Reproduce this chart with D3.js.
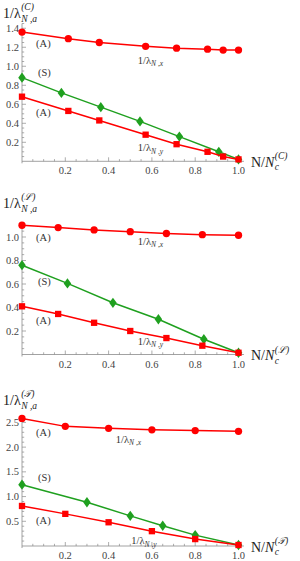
<!DOCTYPE html>
<html><head><meta charset="utf-8">
<script src="https://cdn.jsdelivr.net/npm/d3@7"></script>
<style>body{margin:0;background:#fff}svg{display:block}</style>
</head><body>
<script>
// ---------- data ----------
// Panel C
const cX_pos = [0, 0.214, 0.357, 0.571, 0.714, 0.857, 0.929, 1.0];
const cX_val = [1.36, 1.29, 1.25, 1.21, 1.19, 1.18, 1.17, 1.17];
const cY_val = [0.68, 0.53, 0.43, 0.28, 0.18, 0.10, 0.05, 0.02];
const cS_pos = [0, 0.182, 0.364, 0.545, 0.727, 0.909, 1.0];
const cS_val = [0.88, 0.72, 0.57, 0.42, 0.26, 0.10, 0.02];
// Panel L
const lX_pos = [0, 0.167, 0.333, 0.5, 0.667, 0.833, 1.0];
const lX_val = [1.10, 1.08, 1.06, 1.045, 1.03, 1.02, 1.015];
const lY_val = [0.41, 0.345, 0.27, 0.20, 0.14, 0.075, 0.015];
const lS_pos = [0, 0.21, 0.42, 0.63, 0.84, 1.0];
const lS_val = [0.76, 0.605, 0.44, 0.30, 0.13, 0.015];
// Panel T
const tX_pos = [0, 0.2, 0.4, 0.6, 0.8, 1.0];
const tX_val = [2.58, 2.42, 2.38, 2.35, 2.335, 2.32];
const tY_val = [0.81, 0.65, 0.48, 0.30, 0.14, 0.02];
const tS_pos = [0, 0.3, 0.5, 0.65, 0.8, 1.0];
const tS_val = [1.24, 0.885, 0.61, 0.41, 0.22, 0.02];

const xTicks = [0.2, 0.4, 0.6, 0.8, 1.0];
const cYTicks = [0.2, 0.4, 0.6, 0.8, 1.0, 1.2, 1.4];
const lYTicks = [0.2, 0.4, 0.6, 0.8, 1.0];
const tYTicks = [0.5, 1.0, 1.5, 2.0, 2.5];
const panelSups = ["(C)", "(ℒ)", "(𝒯)"];

// ---------- layout ----------
const RED = "#ff0000", GREEN = "#1fa01f", AXIS = "#8a8a8a", LBL = "#444";
const FONT = "'Liberation Serif','DejaVu Serif',serif";
const panels = [
  {sup: panelSups[0], y0: 161.3, yTop: 23.5, yMax: 1.45, yTicks: cYTicks, minorStep: 0.05,
   xs: [{pos: cX_pos, val: cX_val, shape: "circle", color: RED},
        {pos: cS_pos, val: cS_val, shape: "diamond", color: GREEN},
        {pos: cX_pos, val: cY_val, shape: "square", color: RED}],
   ann: [{t:"(A)", x:0.065, y:1.203}, {t:"(S)", x:0.074, y:0.898}, {t:"(A)", x:0.065, y:0.477},
         {t:"lx", x:0.535, y:1.024}, {t:"ly", x:0.535, y:0.108}],
   titleY: 18},
  {sup: panelSups[1], y0: 354.5, yTop: 225.25, yMax: 1.1, yTicks: lYTicks, minorStep: 0.05,
   xs: [{pos: lX_pos, val: lX_val, shape: "circle", color: RED},
        {pos: lS_pos, val: lS_val, shape: "diamond", color: GREEN},
        {pos: lX_pos, val: lY_val, shape: "square", color: RED}],
   ann: [{t:"(A)", x:0.065, y:0.966}, {t:"(S)", x:0.074, y:0.591}, {t:"(A)", x:0.065, y:0.26},
         {t:"lx", x:0.535, y:0.932}, {t:"ly", x:0.535, y:0.081}],
   titleY: 208},
  {sup: panelSups[2], y0: 546, yTop: 415, yMax: 2.65, yTicks: tYTicks, minorStep: 0.1,
   xs: [{pos: tX_pos, val: tX_val, shape: "circle", color: RED},
        {pos: tS_pos, val: tS_val, shape: "diamond", color: GREEN},
        {pos: tX_pos, val: tY_val, shape: "square", color: RED}],
   ann: [{t:"(A)", x:0.065, y:2.227}, {t:"(S)", x:0.074, y:1.316}, {t:"(A)", x:0.065, y:0.445},
         {t:"lx", x:0.433, y:2.085}, {t:"ly", x:0.505, y:0.04}],
   titleY: 405}
];

const svg = d3.select("body").append("svg").attr("width", 300).attr("height", 561);
const x = d3.scaleLinear().domain([0, 1]).range([22, 238.5]);

panels.forEach(p => {
  const y = d3.scaleLinear().domain([0, p.yMax]).range([p.y0, p.yTop]);
  const g = svg.append("g");
  // axes lines
  g.append("line").attr("x1", x(0)).attr("x2", x(1.025)).attr("y1", y(0)).attr("y2", y(0))
    .attr("stroke", AXIS).attr("stroke-width", 0.8);
  g.append("line").attr("x1", x(0)).attr("x2", x(0)).attr("y1", y(0) + 2).attr("y2", p.yTop)
    .attr("stroke", AXIS).attr("stroke-width", 0.8);
  // x ticks
  const xMinor = d3.range(0.05, 1.0001, 0.05);
  xMinor.forEach(v => {
    const major = xTicks.some(t => Math.abs(t - v) < 1e-6);
    g.append("line").attr("x1", x(v)).attr("x2", x(v)).attr("y1", y(0)).attr("y2", y(0) - (major ? 4 : 2.2))
      .attr("stroke", AXIS).attr("stroke-width", 0.7);
  });
  xTicks.forEach(v => {
    g.append("text").attr("x", x(v)).attr("y", y(0) + 13).attr("text-anchor", "middle")
      .attr("font-family", FONT).attr("font-size", 10.5).attr("fill", LBL).text(v.toFixed(1));
  });
  // y ticks
  const yMinor = d3.range(p.minorStep, p.yMax + 1e-6, p.minorStep);
  yMinor.forEach(v => {
    const major = p.yTicks.some(t => Math.abs(t - v) < 1e-6);
    g.append("line").attr("x1", x(0)).attr("x2", x(0) + (major ? 4 : 2.2)).attr("y1", y(v)).attr("y2", y(v))
      .attr("stroke", AXIS).attr("stroke-width", 0.7);
  });
  p.yTicks.forEach(v => {
    g.append("text").attr("x", x(0) - 3).attr("y", y(v) + 3.5).attr("text-anchor", "end")
      .attr("font-family", FONT).attr("font-size", 10.5).attr("fill", LBL).text(v.toFixed(1));
  });
  // series
  p.xs.forEach(s => {
    const pts = s.pos.map((v, i) => [x(v), y(s.val[i])]);
    g.append("path").attr("d", d3.line()(pts)).attr("fill", "none").attr("stroke", s.color).attr("stroke-width", 1.5);
    const sym = s.shape === "circle" ? d3.symbolCircle : s.shape === "square" ? d3.symbolSquare : d3.symbolDiamond;
    const size = s.shape === "circle" ? 42 : s.shape === "square" ? 40 : 34;
    pts.forEach(pt => {
      g.append("path").attr("d", d3.symbol().type(sym).size(size)())
        .attr("transform", `translate(${pt[0]},${pt[1]})` + (s.shape === "diamond" ? " scale(1.2,0.95)" : ""))
        .attr("fill", s.color);
    });
  });
  // annotations
  p.ann.forEach(a => {
    const t = g.append("text").attr("x", x(a.x)).attr("y", y(a.y))
      .attr("font-family", FONT).attr("font-size", 10.5).attr("fill", "#333");
    if (a.t === "lx" || a.t === "ly") {
      t.append("tspan").text("1/λ");
      t.append("tspan").attr("font-size", 7.5).attr("font-style", "italic").attr("dy", 2.5).text("N");
      t.append("tspan").attr("font-size", 7.5).text(" ,");
      t.append("tspan").attr("font-size", 7.5).attr("font-style", "italic").text(a.t === "lx" ? "x" : "y");
    } else {
      t.text(a.t);
    }
  });
  // y title
  const yt = g.append("text").attr("x", 3).attr("y", p.titleY)
    .attr("font-family", FONT).attr("font-size", 14).attr("fill", "#222").text("1/λ");
  const w = yt.node().getComputedTextLength();
  g.append("text").attr("x", 3 + w + 0.5).attr("y", p.titleY - 8).attr("font-family", FONT)
    .attr("font-size", 9.5).attr("font-style", "italic").attr("fill", "#222").text(p.sup);
  g.append("text").attr("x", 3 + w + 0.5).attr("y", p.titleY + 4).attr("font-family", FONT)
    .attr("font-size", 9.5).attr("font-style", "italic").attr("fill", "#222").text("N ,a");
  // x title
  const xt = g.append("text").attr("x", 251).attr("y", y(0) + 5.5)
    .attr("font-family", FONT).attr("font-size", 14).attr("fill", "#222");
  xt.append("tspan").text("N/");
  xt.append("tspan").attr("font-style", "italic").text("N");
  const xw = xt.node().getComputedTextLength();
  g.append("text").attr("x", 251 + xw + 0.5).attr("y", y(0) - 2).attr("font-family", FONT)
    .attr("font-size", 9.5).attr("font-style", "italic").attr("fill", "#222").text(p.sup);
  g.append("text").attr("x", 251 + xw + 0.5).attr("y", y(0) + 9).attr("font-family", FONT)
    .attr("font-size", 9.5).attr("font-style", "italic").attr("fill", "#222").text("c");
});
</script>
</body></html>
